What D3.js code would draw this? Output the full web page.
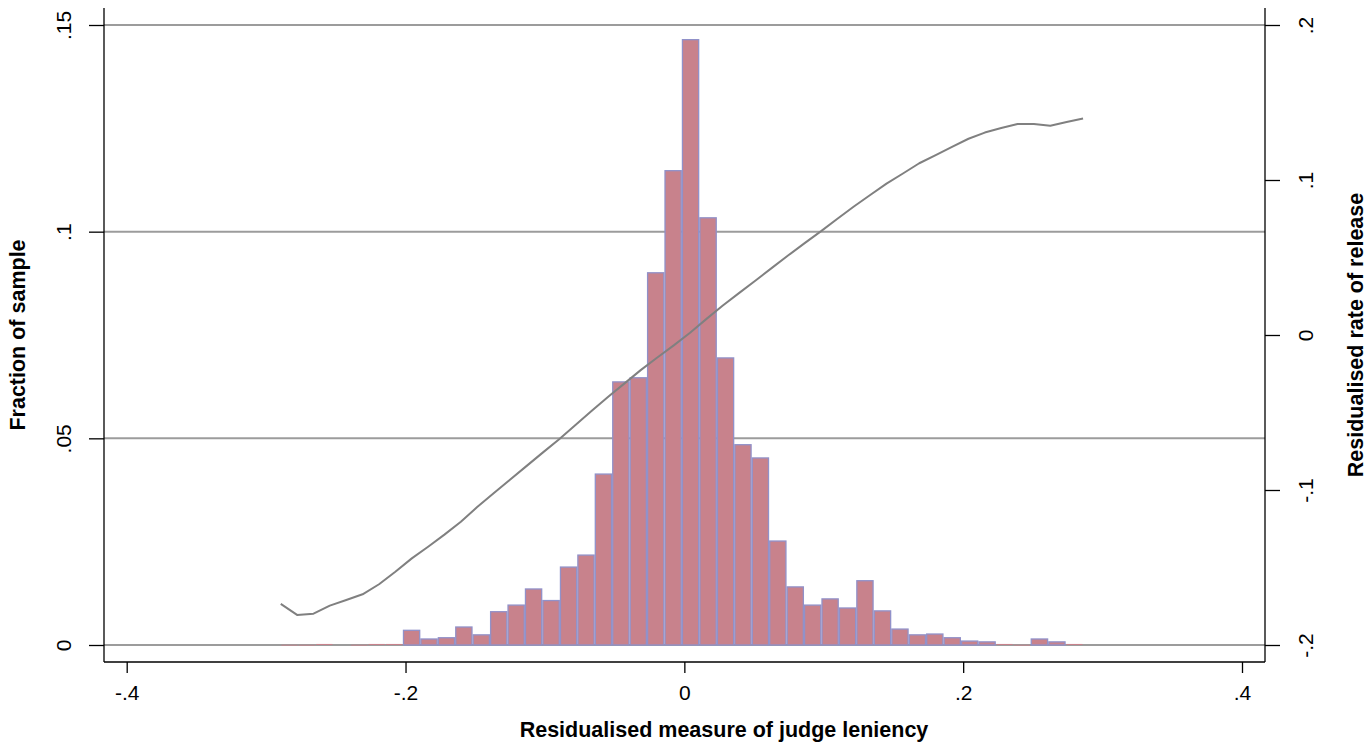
<!DOCTYPE html>
<html>
<head>
<meta charset="utf-8">
<script src="https://cdn.jsdelivr.net/npm/d3@7"></script>
<style>
  html, body { margin: 0; padding: 0; background: #fff; }
  svg { display: block; }
  text { font-family: "Liberation Sans", Arial, Helvetica, sans-serif; fill: #000; }
</style>
</head>
<body>
<svg id="chart" width="1371" height="744"></svg>
<script>
// ---- Data ----
// Histogram bin edges (residualised judge leniency)
const binEdges = [
  -0.2895, -0.2770, -0.2645, -0.2520, -0.2395, -0.2270, -0.2144, -0.2019,
  -0.1894, -0.1769, -0.1644, -0.1519, -0.1394, -0.1269, -0.1144, -0.1019,
  -0.0893, -0.0768, -0.0643, -0.0518, -0.0393, -0.0268, -0.0143, -0.0018,
   0.0107,  0.0233,  0.0358,  0.0483,  0.0608,  0.0733,  0.0858,  0.0983,
   0.1108,  0.1233,  0.1358,  0.1484,  0.1609,  0.1734,  0.1859,  0.1984,
   0.2109,  0.2234,  0.2359,  0.2484,  0.2610,  0.2735,  0.2860
];
// Fraction of sample in each bin
const fractions = [
  0.0002, 0.0002, 0.0004, 0.0000, 0.0002, 0.0004, 0.0004, 0.0037,
  0.0016, 0.0019, 0.0045, 0.0026, 0.0082, 0.0098, 0.0137, 0.0109,
  0.0190, 0.0219, 0.0415, 0.0638, 0.0648, 0.0902, 0.1149, 0.1466,
  0.1035, 0.0696, 0.0486, 0.0454, 0.0253, 0.0142, 0.0098, 0.0113,
  0.0091, 0.0157, 0.0084, 0.0040, 0.0026, 0.0028, 0.0019, 0.0011,
  0.0009, 0.0004, 0.0002, 0.0016, 0.0009, 0.0004
];
// Local polynomial fit: grid points and residualised release rate
const fitX = [
  -0.2895, -0.2778, -0.2660, -0.2543, -0.2425, -0.2308, -0.2190, -0.2073,
  -0.1955, -0.1838, -0.1721, -0.1603, -0.1486, -0.1368, -0.1251, -0.1133,
  -0.1016, -0.0898, -0.0781, -0.0664, -0.0546, -0.0429, -0.0311, -0.0194,
  -0.0076,  0.0041,  0.0159,  0.0276,  0.0394,  0.0511,  0.0628,  0.0746,
   0.0863,  0.0981,  0.1098,  0.1216,  0.1333,  0.1450,  0.1568,  0.1685,
   0.1803,  0.1920,  0.2038,  0.2155,  0.2273,  0.2390,  0.2507,  0.2625,
   0.2742,  0.2860
];
const fitY = [
  -0.1735, -0.1806, -0.1798, -0.1746, -0.1710, -0.1673, -0.1608, -0.1527,
  -0.1441, -0.1366, -0.1288, -0.1205, -0.1110, -0.1021, -0.0934, -0.0846,
  -0.0759, -0.0672, -0.0580, -0.0488, -0.0398, -0.0312, -0.0225, -0.0145,
  -0.0067,  0.0015,  0.0104,  0.0190,  0.0272,  0.0352,  0.0433,  0.0514,
   0.0593,  0.0670,  0.0750,  0.0829,  0.0903,  0.0977,  0.1042,  0.1108,
   0.1161,  0.1214,  0.1266,  0.1306,  0.1335,  0.1361,  0.1361,  0.1350,
   0.1374,  0.1397
];
// Tick values / labels
const xTicks = [-0.4, -0.2, 0, 0.2, 0.4];
const xTickLabels = ["-.4", "-.2", "0", ".2", ".4"];
const yLeftTicks = [0, 0.05, 0.1, 0.15];
const yLeftTickLabels = ["0", ".05", ".1", ".15"];
const yRightTicks = [-0.2, -0.1, 0, 0.1, 0.2];
const yRightTickLabels = ["-.2", "-.1", "0", ".1", ".2"];
const xTitle = "Residualised measure of judge leniency";
const yLeftTitle = "Fraction of sample";
const yRightTitle = "Residualised rate of release";

// ---- Layout ----
const region = { left: 104, right: 1265, top: 8, bottom: 662 };
const svg = d3.select("#chart");

const x = d3.scaleLinear().domain([-0.4, 0.4]).range([126.7, 1242]);
const yL = d3.scaleLinear().domain([0, 0.15]).range([645, 25]);
const yR = d3.scaleLinear().domain([-0.2, 0.2]).range([645, 25]);

const gridColor = "#9c9c9c";
const barFill = "#c8828c";
const barStroke = "#9191c9";
const lineColor = "#808080";

// Gridlines (left axis ticks)
svg.append("g").selectAll("line").data(yLeftTicks).join("line")
  .attr("x1", region.left).attr("x2", region.right)
  .attr("y1", d => yL(d)).attr("y2", d => yL(d))
  .attr("stroke", gridColor).attr("stroke-width", 2);

// Histogram bars
const bins = fractions.map((f, i) => ({ x0: binEdges[i], x1: binEdges[i + 1], f }));
svg.append("g").selectAll("rect").data(bins.filter(b => b.f > 0)).join("rect")
  .attr("x", d => x(d.x0) + 0.6)
  .attr("width", d => x(d.x1) - x(d.x0) - 1.2)
  .attr("y", d => yL(d.f) + 0.6)
  .attr("height", d => Math.max(0.8, yL(0) - yL(d.f) - 0.6))
  .attr("fill", barFill)
  .attr("stroke", d => (yL(0) - yL(d.f)) > 2.5 ? barStroke : "none")
  .attr("stroke-width", 1.3);

// Fit line
const pts = fitX.map((v, i) => [v, fitY[i]]);
svg.append("path")
  .datum(pts)
  .attr("fill", "none")
  .attr("stroke", lineColor)
  .attr("stroke-width", 2)
  .attr("stroke-linejoin", "round")
  .attr("d", d3.line().x(d => x(d[0])).y(d => yR(d[1])));

// Axes
const axisG = svg.append("g").attr("stroke", "#000").attr("stroke-width", 1.3);
axisG.append("line").attr("x1", region.left).attr("x2", region.left)
  .attr("y1", region.top).attr("y2", region.bottom);
axisG.append("line").attr("x1", region.right).attr("x2", region.right)
  .attr("y1", region.top).attr("y2", region.bottom);
axisG.append("line").attr("x1", region.left).attr("x2", region.right)
  .attr("y1", region.bottom).attr("y2", region.bottom);

// Bottom axis via d3
const xAxis = d3.axisBottom(x).tickValues(xTicks)
  .tickFormat((d, i) => xTickLabels[i]).tickSize(11).tickPadding(0).tickSizeOuter(0);
const gx = svg.append("g").attr("transform", `translate(0,${region.bottom})`).call(xAxis);
gx.select(".domain").remove();
gx.selectAll(".tick line").attr("stroke", "#000").attr("stroke-width", 1.3);
gx.selectAll(".tick text")
  .attr("y", 37.5).attr("dy", null)
  .style("font-size", "21px").attr("fill", "#000")
  .attr("font-family", "'Liberation Sans', Arial, sans-serif");

// Left axis via d3
const yAxisL = d3.axisLeft(yL).tickValues(yLeftTicks)
  .tickFormat((d, i) => yLeftTickLabels[i]).tickSize(15).tickSizeOuter(0);
const gl = svg.append("g").attr("transform", `translate(${region.left},0)`).call(yAxisL);
gl.select(".domain").remove();
gl.selectAll(".tick line").attr("stroke", "#000").attr("stroke-width", 1.3);
gl.selectAll(".tick text")
  .attr("x", null).attr("dy", null)
  .attr("text-anchor", "middle")
  .attr("transform", "translate(-33.5,0) rotate(-90)")
  .style("font-size", "21px").attr("fill", "#000")
  .attr("font-family", "'Liberation Sans', Arial, sans-serif");

// Right axis via d3
const yAxisR = d3.axisRight(yR).tickValues(yRightTicks)
  .tickFormat((d, i) => yRightTickLabels[i]).tickSize(15).tickSizeOuter(0);
const gr = svg.append("g").attr("transform", `translate(${region.right},0)`).call(yAxisR);
gr.select(".domain").remove();
gr.selectAll(".tick line").attr("stroke", "#000").attr("stroke-width", 1.3);
gr.selectAll(".tick text")
  .attr("x", null).attr("dy", null)
  .attr("text-anchor", "middle")
  .attr("transform", "translate(48,0) rotate(-90)")
  .style("font-size", "21px").attr("fill", "#000")
  .attr("font-family", "'Liberation Sans', Arial, sans-serif");

// Titles
svg.append("text")
  .attr("x", 724).attr("y", 736.5)
  .attr("text-anchor", "middle")
  .style("font-size", "21.5px").style("font-weight", "bold")
  .text(xTitle);
svg.append("text")
  .attr("transform", "translate(25,335) rotate(-90)")
  .attr("text-anchor", "middle")
  .style("font-size", "21.5px").style("font-weight", "bold")
  .text(yLeftTitle);
svg.append("text")
  .attr("transform", "translate(1363,335) rotate(-90)")
  .attr("text-anchor", "middle")
  .style("font-size", "21.5px").style("font-weight", "bold")
  .text(yRightTitle);
</script>
</body>
</html>
